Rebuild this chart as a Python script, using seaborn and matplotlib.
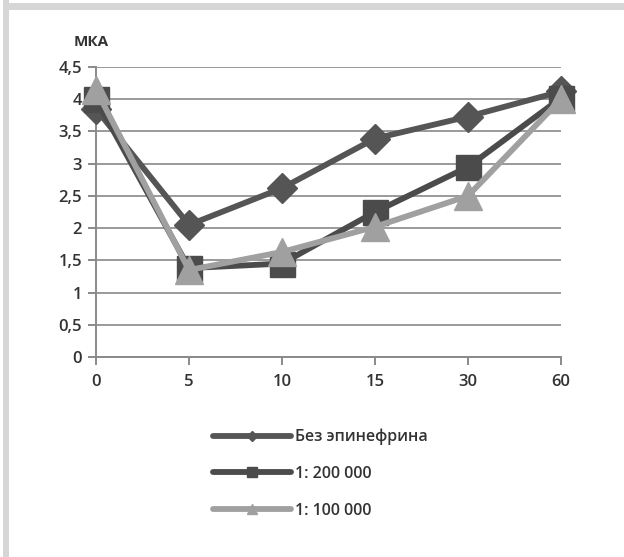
import matplotlib
matplotlib.use("Agg")
import matplotlib.pyplot as plt
from matplotlib.lines import Line2D
from matplotlib.patches import Rectangle
import seaborn as sns
import pandas as pd

# Time points (min) and МКА values for each solution
times = ["0", "5", "10", "15", "30", "60"]
no_epi = [3.85, 2.05, 2.62, 3.39, 3.73, 4.12]
epi_200k = [4.0, 1.38, 1.45, 2.25, 2.95, 4.02]
epi_100k = [4.15, 1.35, 1.63, 2.02, 2.5, 4.0]
series_names = ["Без эпинефрина", "1: 200 000", "1: 100 000"]
y_ticks = [0, 0.5, 1, 1.5, 2, 2.5, 3, 3.5, 4, 4.5]
y_tick_labels = ["0", "0,5", "1", "1,5", "2", "2,5", "3", "3,5", "4", "4,5"]

sns.set_theme(style="white")
plt.rcParams["font.family"] = ["Open Sans", "DejaVu Sans"]

text_color = "#333333"
colors = ["#555555", "#4b4b4b", "#a0a0a0"]
markers = ["D", "s", "^"]
msizes = [15, 18, 20]

fig = plt.figure(figsize=(6.24, 5.57), dpi=100)
fig.patch.set_facecolor("white")

# light grey frame on the top and left edges
fig.patches.append(Rectangle((0.005, 0.0), 0.010, 1.0, transform=fig.transFigure,
                             facecolor="#d6d6d6", edgecolor="none", zorder=0))
fig.patches.append(Rectangle((0.005, 0.982), 0.995, 0.013, transform=fig.transFigure,
                             facecolor="#d6d6d6", edgecolor="none", zorder=0))

ax = fig.add_axes([0.1538, 0.359, 0.899 - 0.1538, 0.8797 - 0.359])
ax.set_facecolor("white")

rows = []
for name, vals in zip(series_names, [no_epi, epi_200k, epi_100k]):
    for i, (t, v) in enumerate(zip(times, vals)):
        rows.append({"pos": i, "time": t, "value": v, "series": name})
df = pd.DataFrame(rows)

for k, name in enumerate(series_names):
    sub = df[df["series"] == name]
    sns.lineplot(data=sub, x="pos", y="value", ax=ax, color=colors[k],
                 marker=markers[k], markersize=msizes[k], linewidth=4.2,
                 markeredgecolor=colors[k], markeredgewidth=1,
                 legend=False, zorder=3 + k, clip_on=False)

ax.set_xlim(0, len(times) - 1)
ax.set_ylim(0, 4.5)
ax.set_xticks(range(len(times)))
ax.set_xticklabels(times)
ax.set_yticks(y_ticks)
ax.set_yticklabels(y_tick_labels)
ax.set_xlabel("")
ax.set_ylabel("")

ax.yaxis.grid(True, color="#9a9a9a", linewidth=1.4)
ax.set_axisbelow(True)
for side in ["top", "right"]:
    ax.spines[side].set_visible(False)
for side in ["left", "bottom"]:
    ax.spines[side].set_color("#8a8a8a")
    ax.spines[side].set_linewidth(1.4)

ax.tick_params(axis="both", which="both", length=6, width=1.4, color="#8a8a8a",
               labelsize=12, labelcolor=text_color, direction="out")
ax.tick_params(axis="x", pad=6)
ax.tick_params(axis="y", pad=4)
ax.xaxis.set_ticks_position("bottom")
ax.yaxis.set_ticks_position("left")
for lab in ax.get_xticklabels() + ax.get_yticklabels():
    lab.set_fontweight("semibold")

fig.text(0.118, 0.912, "МКА", fontsize=11, fontweight="bold", color=text_color,
         ha="left", va="bottom")

# legend with compact markers
handles = [Line2D([0], [0], color=colors[k], linewidth=4.2, marker=markers[k],
                  markersize=[5, 7, 7][k], markeredgecolor=colors[k])
           for k in range(3)]
leg = fig.legend(handles, series_names, loc="upper left",
                 bbox_to_anchor=(0.318, 0.256), frameon=False,
                 prop={"size": 11.5, "weight": "semibold"},
                 handlelength=4.9, handletextpad=0.25, labelspacing=1.3,
                 labelcolor=text_color)

fig.savefig("out.png", dpi=100, facecolor="white")
